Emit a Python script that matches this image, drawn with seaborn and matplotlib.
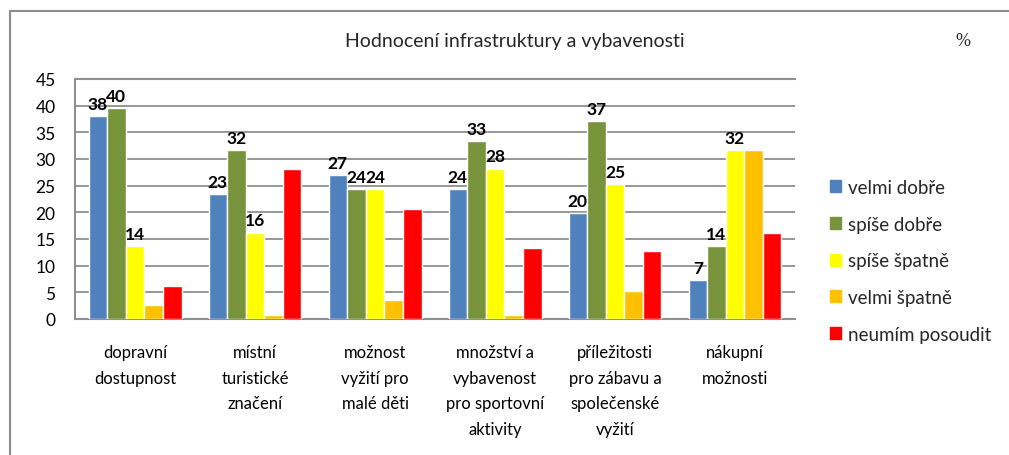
import pandas as pd
import matplotlib
matplotlib.use("Agg")
import matplotlib.pyplot as plt
from matplotlib.lines import Line2D
import seaborn as sns

CATEGORIES = [
    "dopravní\ndostupnost",
    "místní\nturistické\nznačení",
    "možnost\nvyžití pro\nmalé děti",
    "množství a\nvybavenost\npro sportovní\naktivity",
    "příležitosti\npro zábavu a\nspolečenské\nvyžití",
    "nákupní\nmožnosti",
]
SERIES = ["velmi dobře", "spíše dobře", "spíše špatně", "velmi špatně", "neumím posoudit"]
velmi_dobre = [38.1, 23.4, 27.0, 24.3, 19.8, 7.3]
spise_dobre = [39.6, 31.6, 24.3, 33.4, 37.1, 13.6]
spise_spatne = [13.6, 16.2, 24.3, 28.2, 25.3, 31.6]
velmi_spatne = [2.6, 0.8, 3.5, 0.8, 5.3, 31.6]
neumim = [6.2, 28.1, 20.7, 13.4, 12.7, 16.2]
COLORS = ["#4F81BD", "#77933C", "#FFFF00", "#FFC000", "#FF0000"]
Y_TICKS = list(range(0, 50, 5))

rows = []
for name, vals in zip(SERIES, [velmi_dobre, spise_dobre, spise_spatne, velmi_spatne, neumim]):
    for cat, v in zip(CATEGORIES, vals):
        rows.append({"kategorie": cat, "hodnoceni": name, "procento": v})
df = pd.DataFrame(rows)

sns.set_theme(style="white")
plt.rcParams["font.family"] = ["Lato", "DejaVu Sans"]

fig = plt.figure(figsize=(10.09, 4.56), dpi=100)
ax = fig.add_axes([75 / 1009, 1 - 320 / 456, 720 / 1009, 240 / 456])

sns.barplot(data=df, x="kategorie", y="procento", hue="hodnoceni",
            palette=COLORS, width=0.775, gap=0, saturation=1,
            errorbar=None, ax=ax, zorder=3)

ax.set_ylim(0, 45)
ax.set_yticks(Y_TICKS)
ax.set_xlabel("")
ax.set_ylabel("")
ax.yaxis.grid(True, color="#8f8f8f", linewidth=1.3, zorder=0)
ax.set_axisbelow(True)
for side in ["left", "bottom", "top"]:
    ax.spines[side].set_visible(True)
    ax.spines[side].set_color("#8f8f8f")
    ax.spines[side].set_linewidth(1.5)
ax.spines["right"].set_visible(False)
ax.tick_params(axis="y", length=0, pad=14, labelsize=12.5, labelcolor="black")
ax.tick_params(axis="x", length=0, pad=18, labelsize=12, labelcolor="black")
for lbl in ax.get_xticklabels():
    lbl.set_linespacing(1.75)
    lbl.set_verticalalignment("top")

# data labels only for the first three series
for cont in ax.containers[:3]:
    ax.bar_label(cont, fmt="%.0f", padding=3, fontsize=12.5, fontweight="bold", color="black")

ax.legend_.remove()
handles = [plt.Rectangle((0, 0), 1, 1, color=c) for c in COLORS]
fig.legend(handles, SERIES, loc="upper left", bbox_to_anchor=(813 / 1009, 1 - 163 / 456),
           frameon=False, fontsize=13.5, handlelength=0.6, handleheight=0.6,
           handletextpad=0.35, labelspacing=1.05)

fig.text(515 / 1009, 1 - 42 / 456, "Hodnocení infrastruktury a vybavenosti",
         ha="center", va="center", fontsize=14)
fig.text(963 / 1009, 1 - 42 / 456, "%", ha="center", va="center", fontsize=13,
         family=["Liberation Serif", "DejaVu Serif"])

# outer chart frame (left and top edges)
fig.add_artist(Line2D([10 / 1009, 10 / 1009], [0, 1 - 12 / 456], transform=fig.transFigure,
                      color="#8c8c8c", linewidth=1.5))
fig.add_artist(Line2D([10 / 1009, 1], [1 - 12 / 456, 1 - 12 / 456], transform=fig.transFigure,
                      color="#8c8c8c", linewidth=1.5))

fig.savefig("out.png", dpi=100)
